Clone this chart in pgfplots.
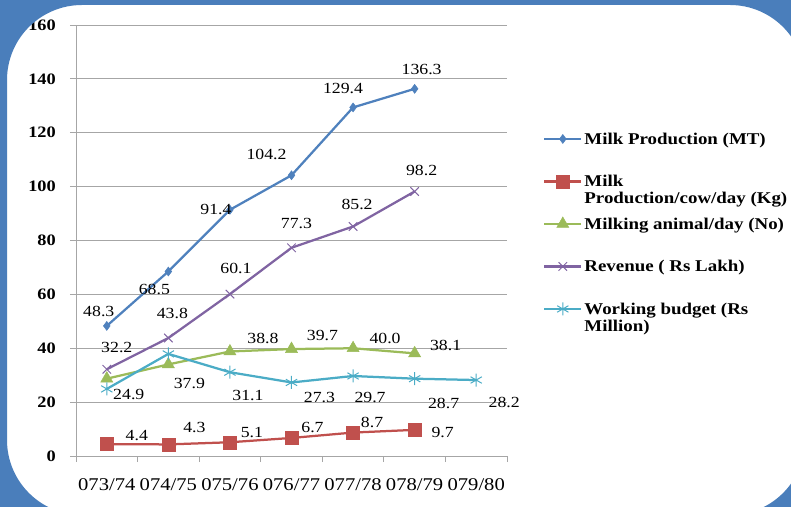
\documentclass[border=0pt]{standalone}
\usepackage{pgfplots}
\pgfplotsset{compat=1.18}
\usepackage{pgfplotstable}
\usepackage{fontspec}
\setmainfont{Liberation Serif}[FakeStretch=1.15]

\definecolor{frameblue}{HTML}{4A7EBB}
\definecolor{cblue}{HTML}{4F81BD}
\definecolor{cred}{HTML}{C0504D}
\definecolor{cgreen}{HTML}{9BBB59}
\definecolor{cpurple}{HTML}{8064A2}
\definecolor{ccyan}{HTML}{4BACC6}
\definecolor{gridgray}{HTML}{A6A6A6}

% x y label-shift(dx,dy) label
\pgfplotstableread{
x y dx dy lab
0 48.3 -8 14 48.3
1 68.5 -14 -18 68.5
2 91.4 -14 0 91.4
3 104.2 -25 21 104.2
4 129.4 -10 19 129.4
5 136.3 7 19 136.3
}\milkmt
\pgfplotstableread{
x y dx dy lab
0 4.4 30 9 4.4
1 4.3 26 17 4.3
2 5.1 22 10 5.1
3 6.7 21 10 6.7
4 8.7 19 10 8.7
5 9.7 28 -3 9.7
}\percow
\pgfplotstableread{
x y dx dy lab
0 28.7 0 0 {}
1 34.0 0 0 {}
2 38.8 33 13 38.8
3 39.7 31 14 39.7
4 40.0 32 10 40.0
5 38.1 31 8 38.1
}\animals
\pgfplotstableread{
x y dx dy lab
0 32.2 10 22 32.2
1 43.8 4 25 43.8
2 60.1 6 26 60.1
3 77.3 5 24 77.3
4 85.2 4 22 85.2
5 98.2 7 21 98.2
}\revenue
\pgfplotstableread{
x y dx dy lab
0 24.9 22 -6 24.9
1 37.9 21 -30 37.9
2 31.1 18 -23 31.1
3 27.3 28 -15 27.3
4 29.7 17 -22 29.7
5 28.7 29 -25 28.7
6 28.2 28 -22 28.2
}\budget

\newcommand\legtext[1]{\raisebox{0pt}[12bp][4bp]{#1}}
\newcommand\legtwo[2]{\raisebox{0pt}[12bp][4bp]{\begin{tabular}[t]{@{}l@{}}#1\\#2\end{tabular}}}

\pgfplotsset{
  series/.style={
    line width=2.25bp, color=#1,
    nodes near coords, point meta=explicit symbolic,
    visualization depends on={\thisrow{dx} \as \dx},
    visualization depends on={\thisrow{dy} \as \dy},
    every node near coord/.append style={anchor=center, inner sep=0pt, text=black,
      font=\fontsize{15.5}{15.5}\selectfont, xshift={\dx*1bp}, yshift={\dy*1bp}},
  },
}

\begin{document}
\begin{tikzpicture}
\path[use as bounding box] (0,0) rectangle (791bp,507bp);
\begin{axis}[
  at={(76bp,51bp)}, anchor=south west,
  scale only axis, width=431bp, height=431bp,
  xmin=-0.5, xmax=6.5, ymin=0, ymax=160,
  xtick={0,...,6},
  xticklabels={073/74,074/75,075/76,076/77,077/78,078/79,079/80},
  minor xtick={-0.5,0.5,...,6.5},
  ytick={0,20,...,160},
  /pgf/number format/assume math mode=true,
  axis x line*=bottom, axis y line*=left,
  axis line style={gridgray, line width=0.8bp, -},
  ymajorgrids, grid style={gridgray, line width=0.8bp},
  tick align=outside, major tick length=6bp, minor tick length=6bp,
  major x tick style={draw=none},
  minor x tick style={gridgray, line width=0.8bp},
  ytick style={gridgray, line width=0.8bp},
  yticklabel style={font=\bfseries\fontsize{16}{16}\selectfont, inner sep=0pt, xshift=-14bp},
  xticklabel style={font=\fontsize{18}{18}\selectfont, inner sep=0pt, anchor=north, yshift=-16bp},
  clip=false,
  legend style={at={(1.0835,0.754)}, anchor=north west, draw=none, fill=none,
    inner sep=0pt, row sep=27bp, column sep=1bp,
    font=\bfseries\fontsize{16.5}{17}\selectfont,
    nodes={inner sep=1bp}},
  legend cell align=left,
  legend image code/.code={\draw[mark repeat=2,mark phase=2,#1]
    plot coordinates {(0bp,0bp) (18.5bp,0bp) (37bp,0bp)};},
]
\addplot[series=cblue, mark=diamond*, mark size=4.5bp,
  mark options={solid, line width=0.5bp, fill=cblue}] table[x=x, y=y, meta=lab] {\milkmt};
\addlegendentry{\legtext{Milk Production (MT)}}
\addplot[series=cred, mark=square*, mark size=6.5bp,
  mark options={solid, line width=0.5bp, fill=cred}] table[x=x, y=y, meta=lab] {\percow};
\addlegendentry{\legtwo{Milk}{Production/cow/day (Kg)}}
\addplot[series=cgreen, mark=triangle*, mark size=7bp,
  mark options={solid, line width=0.5bp, fill=cgreen}] table[x=x, y=y, meta=lab] {\animals};
\addlegendentry{\legtext{Milking animal/day (No)}}
\addplot[series=cpurple, mark=x, mark size=6bp,
  mark options={solid, line width=1bp}] table[x=x, y=y, meta=lab] {\revenue};
\addlegendentry{\legtext{Revenue ( Rs Lakh)}}
\addplot[series=ccyan, mark=asterisk, mark size=6.5bp,
  mark options={solid, line width=1bp}] table[x=x, y=y, meta=lab] {\budget};
\addlegendentry{\legtwo{Working budget (Rs}{Million)}}
\end{axis}
\fill[frameblue, even odd rule] (0,0) rectangle (791bp,507bp)
  {[rounded corners=75bp] (7bp,-8bp) rectangle (805bp,502bp)};
\end{tikzpicture}
\end{document}
